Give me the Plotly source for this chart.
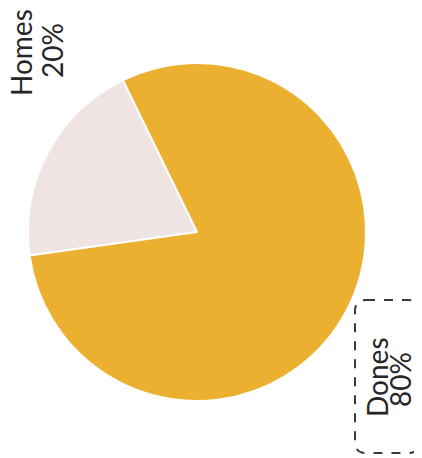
import plotly.graph_objects as go

labels = ["Homes", "Dones"]
values = [20, 80]
colors = ["#F0E4E2", "#ECB031"]

# the page body adds an 8px margin, so the figure is drawn 8px smaller
OFF = 8
W, H = 422 - OFF, 458 - OFF


def px(x):
    return (x - OFF) / W


def py(y):
    return 1 - (y - OFF) / H


CX, CY, R = 197, 232, 169
fig = go.Figure()
fig.add_trace(go.Pie(
    labels=labels, values=values, sort=False, direction="clockwise",
    rotation=262, textinfo="none", hoverinfo="label+percent",
    marker=dict(colors=colors, line=dict(color="white", width=2)),
    domain=dict(x=[px(CX - R), px(CX + R)], y=[py(CY + R), py(CY - R)]),
    showlegend=False,
))

font = dict(family="Lato, 'Open Sans', sans-serif", size=28, color="#262626")
# (name line x, y), (percent line x, y) in pixels
pos = [((21, 53), (52, 51)), ((377, 377), (400, 380))]
for lab, val, (p1, p2) in zip(labels, values, pos):
    for txt, (x, y) in ((lab, p1), (f"{val}%", p2)):
        fig.add_annotation(
            x=px(x), y=py(y), xref="paper", yref="paper",
            text=txt, showarrow=False, textangle=-90,
            xanchor="center", yanchor="middle", align="center", font=font,
        )

# dashed rounded box around the Dones label
x0, x1, y0, y1, r = 355, 419, 300, 453, 11
path = (f"M {px(x0 + r)} {py(y0)} L {px(x1 - r)} {py(y0)} "
        f"Q {px(x1)} {py(y0)} {px(x1)} {py(y0 + r)} "
        f"L {px(x1)} {py(y1 - r)} Q {px(x1)} {py(y1)} {px(x1 - r)} {py(y1)} "
        f"L {px(x0 + r)} {py(y1)} Q {px(x0)} {py(y1)} {px(x0)} {py(y1 - r)} "
        f"L {px(x0)} {py(y0 + r)} Q {px(x0)} {py(y0)} {px(x0 + r)} {py(y0)} Z")
fig.add_shape(type="path", path=path, xref="paper", yref="paper",
              line=dict(color="#3a3a3a", width=2, dash="dash"))

fig.update_layout(
    width=W, height=H, margin=dict(l=0, r=0, t=0, b=0),
    paper_bgcolor="white", plot_bgcolor="white",
)
fig.write_html("out.html")
